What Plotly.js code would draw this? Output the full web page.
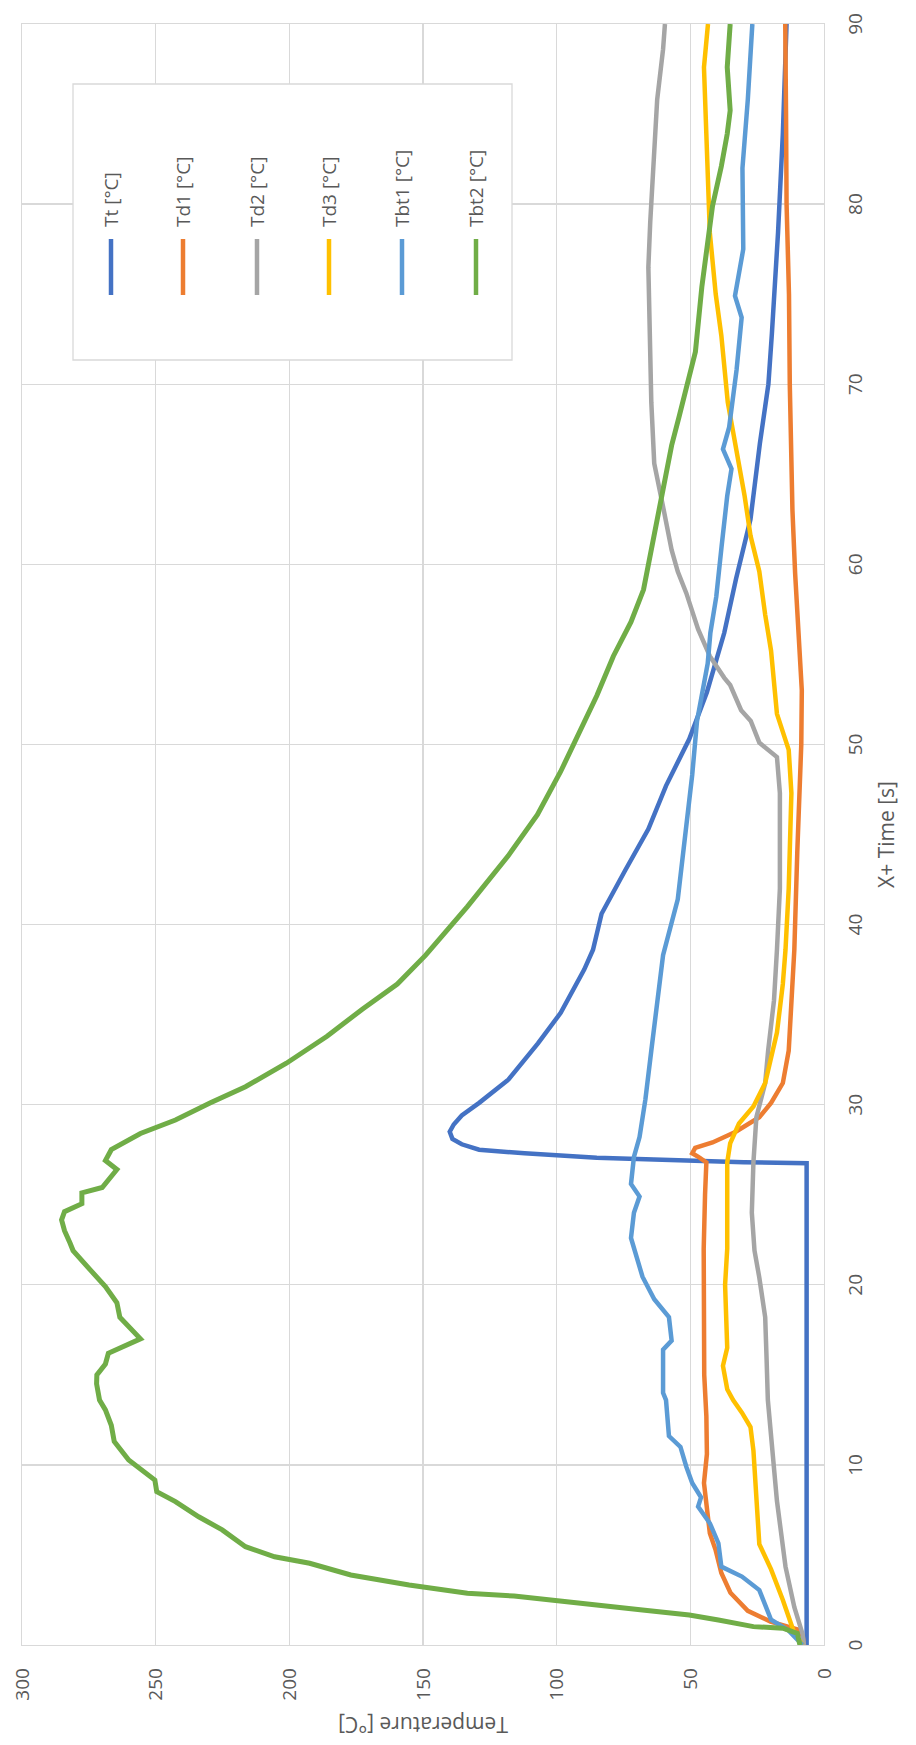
<!DOCTYPE html>
<html>
<head>
<meta charset="utf-8">
<script src="https://cdn.plot.ly/plotly-3.0.1.min.js"></script>
<style>
  html, body { margin: 0; padding: 0; background: #ffffff; overflow: hidden; }
  body { width: 916px; height: 1745px; position: relative; }
  /* The chart is laid out landscape and turned a quarter turn counter-clockwise */
  #chart {
    position: absolute; left: 0; top: 0;
    width: 1745px; height: 916px;
    transform-origin: 0 0;
    transform: translate(0px, 1745px) rotate(-90deg);
  }
</style>
</head>
<body>
<div id="chart"></div>
<script>
// Series names and colours
const seriesNames = ['Tt [°C]', 'Td1 [°C]', 'Td2 [°C]', 'Td3 [°C]', 'Tbt1 [°C]', 'Tbt2 [°C]'];
const seriesColors = ['#4472C4', '#ED7D31', '#A5A5A5', '#FFC000', '#5B9BD5', '#70AD47'];

// Tt
const timeTt = [0, 5, 10, 15, 20, 26.75, 26.8, 26.9, 27.05, 27.3, 27.5, 27.8, 28.1, 28.5, 28.9, 29.4, 30.1, 31.4, 33.4, 35.1, 37.5, 38.6, 40.6, 43, 45.3, 47.7, 50.3, 52.9, 56.2, 59.2, 62.5, 66.7, 68.2, 70, 72.8, 78.4, 83.9, 86, 90];
const tempTt = [6.5, 6.5, 6.5, 6.5, 6.5, 6.5, 30, 55, 85, 112, 129, 135.5, 139, 140, 138.5, 135.5, 129, 118, 107, 98.5, 89.7, 86.4, 83.2, 74.4, 65.7, 59.1, 50.4, 43.8, 37.3, 32.9, 27.5, 24, 22.5, 20.8, 19.5, 17.2, 15.4, 15, 14];

// Td1
const timeTd1 = [0, 0.5, 0.83, 1.3, 1.9, 2.9, 4, 5.3, 6.2, 7.5, 9, 10.6, 12.7, 15, 18, 22, 25, 26.8, 27.1, 27.3, 27.6, 27.9, 28.5, 29.3, 30.1, 31.2, 33, 35.8, 38.6, 44, 50, 53, 56, 59.5, 63, 66, 70, 75, 80, 85, 90];
const tempTd1 = [7.5, 8, 9, 20, 28.5, 35, 38.4, 40.6, 42.7, 43.8, 44.9, 43.8, 44, 44.8, 45, 45, 44.5, 44, 47, 49.3, 48.2, 41.7, 33, 24.2, 19.8, 15.4, 13.2, 12.2, 11.1, 10, 8.5, 8.3, 9.5, 10.8, 11.8, 12.4, 12.8, 13.1, 14, 14.2, 14.5];

// Td2
const timeTd2 = [0, 0.6, 2.1, 4.35, 8, 11.8, 13.6, 16, 18.2, 20.4, 21.9, 24, 26.8, 29.3, 31.2, 33, 35.8, 38.6, 42, 47.3, 49.3, 50.1, 51.3, 51.9, 53.3, 53.7, 54.9, 56.4, 58.4, 59.6, 60.8, 63.2, 65.6, 69, 72, 76.5, 79, 82.1, 85.8, 88.6, 90];
const tempTd2 = [7.5, 8, 11.1, 14.4, 17.6, 19.8, 21, 21.5, 22, 24.2, 26, 27, 26.4, 25.3, 22, 20.9, 18.7, 17.6, 16.5, 16.5, 17.6, 24.2, 27.4, 31, 35.1, 37.3, 42.7, 47.1, 51.5, 54.7, 57, 60.2, 63.5, 64.6, 65, 65.7, 65, 64, 62.4, 60.2, 59.5];

// Td3
const timeTd3 = [0, 0.65, 2.5, 4.2, 5.6, 8, 10.8, 12.1, 12.9, 13.6, 14.2, 15.5, 16.5, 20, 22, 26.8, 27.85, 28.95, 29.9, 31.2, 34, 36.7, 38.6, 42, 47.3, 49.7, 51.7, 55.2, 57.2, 59.6, 61.6, 63.8, 66.6, 69, 72.7, 75, 78.4, 83.9, 87.6, 90];
const tempTd3 = [8, 11.1, 15.4, 19.8, 24.2, 25.3, 26.4, 27.5, 30.7, 34, 36.2, 37.8, 36.2, 37, 36.2, 36.2, 35.1, 31.8, 26.4, 22, 17.6, 15.4, 14.4, 13.2, 12.2, 13.2, 17.6, 19.8, 22, 24.2, 27.5, 29.7, 32.9, 36, 38.4, 40.5, 42.7, 43.8, 44.9, 43.4];

// Tbt1
const timeTbt1 = [0, 0.8, 1.4, 3.05, 3.8, 4.35, 5.65, 6.76, 7.68, 8.2, 9, 9.9, 11, 11.6, 13.6, 14, 16.4, 16.9, 18.2, 19.2, 20.45, 21.6, 22.6, 24, 24.9, 25.6, 27.1, 28.2, 30.3, 33, 35.8, 38.3, 41.4, 45.3, 48.3, 51.3, 54.5, 56.2, 58.2, 61, 63.8, 65.3, 66.4, 67.6, 70.8, 73.7, 74.9, 77.5, 82, 85.8, 90];
const tempTbt1 = [8, 13.2, 19.8, 24.2, 30.7, 38.4, 39.5, 42.7, 47.1, 46, 49.3, 51.5, 53.7, 58, 59.1, 60.2, 60.2, 57, 58, 63.5, 67.9, 70, 72.2, 71.1, 69, 72.2, 71.1, 69, 66.8, 64.6, 62.4, 60.2, 54.7, 51.5, 49.3, 47.5, 43.5, 42.5, 40.3, 38.3, 36.2, 34.6, 37.8, 35.5, 32.7, 30.8, 33.3, 30.2, 30.5, 28.5, 26.8];

// Tbt2
const timeTbt2 = [0, 0.65, 0.93, 1.02, 1.39, 1.67, 1.94, 2.3, 2.5, 2.72, 2.87, 3.33, 3.89, 4.54, 4.9, 5.46, 6.39, 7.12, 7.96, 8.51, 9.16, 9.53, 10.27, 11.3, 12.2, 13.05, 13.6, 14.5, 15, 15.6, 16.2, 17, 18.2, 19, 19.9, 20.8, 21.9, 22.3, 23, 23.6, 24.06, 24.5, 25.1, 25.4, 26.4, 26.9, 27.5, 28.4, 29.15, 30.1, 31, 32.3, 33.8, 35.3, 36.7, 38.3, 41, 43.8, 46.1, 48.5, 50.5, 52.7, 54.9, 56.8, 58.6, 60.8, 63, 66.6, 68.2, 71.8, 75.4, 79.9, 82.1, 83.9, 85.2, 87.6, 90];
const tempTbt2 = [9, 10, 15.4, 26.4, 39.5, 50.4, 67.9, 89.8, 100.6, 115.9, 133.4, 155.2, 177, 192.4, 205.5, 216.4, 225.1, 233.9, 242.6, 249.6, 250.3, 253.6, 260.1, 265.5, 266.6, 268.8, 271, 272.1, 272, 268.8, 267.7, 255.7, 263.4, 264.5, 268.8, 274.3, 280.9, 282, 284.1, 285.2, 284.1, 277.6, 277.6, 270, 264.5, 268.8, 266.6, 255.7, 242.6, 229.5, 216.4, 201.1, 185.9, 172.7, 159.6, 149, 133.4, 118.2, 107.2, 98.5, 91.9, 85, 78.8, 72.2, 67.5, 64.6, 61.3, 57, 54.2, 48.1, 45.7, 41.7, 38.4, 36.2, 35.1, 36.2, 35.1];

const seriesTimes = [timeTt, timeTd1, timeTd2, timeTd3, timeTbt1, timeTbt2];
const seriesTemps = [tempTt, tempTd1, tempTd2, tempTd3, tempTbt1, tempTbt2];

// Axis ticks
const timeTicks = [0, 10, 20, 30, 40, 50, 60, 70, 80, 90];
const tempTicks = [0, 50, 100, 150, 200, 250, 300];

const W = 1745, H = 916;
const M = { l: 100, r: 24, t: 22, b: 92 };
const PW = W - M.l - M.r, PH = H - M.t - M.b;
const px = x => (x - M.l) / PW;           // pixel -> paper x
const py = y => (H - M.b - y) / PH;       // pixel -> paper y

const gridColor = '#d9d9d9';
const textColor = '#595959';
const font = 'Open Sans, Liberation Sans, sans-serif';

const traces = seriesNames.map((name, i) => ({
  type: 'scatter',
  mode: 'lines',
  name: name,
  x: seriesTimes[i],
  y: seriesTemps[i],
  line: { color: seriesColors[i], width: i === 5 ? 5 : 4.5, shape: 'linear' },
  showlegend: false,
  hoverinfo: 'skip'
}));

// Legend box drawn as shapes + annotations, one entry per row
const legendRows = [111, 183, 257, 329, 402, 476];
const shapes = [{
  type: 'rect', xref: 'paper', yref: 'paper',
  x0: px(1385), x1: px(1661), y0: py(512), y1: py(73),
  line: { color: gridColor, width: 1.3 }, fillcolor: '#ffffff', layer: 'above'
}];
const annotations = [];
seriesNames.forEach((name, i) => {
  shapes.push({
    type: 'line', xref: 'paper', yref: 'paper',
    x0: px(1450), x1: px(1506), y0: py(legendRows[i]), y1: py(legendRows[i]),
    line: { color: seriesColors[i], width: 4.5 }, layer: 'above'
  });
  annotations.push({
    xref: 'paper', yref: 'paper', x: px(1516), y: py(legendRows[i]),
    xanchor: 'left', yanchor: 'middle', showarrow: false,
    text: name, font: { family: font, size: 19, color: textColor }
  });
});

const layout = {
  width: W, height: H,
  margin: M,
  paper_bgcolor: '#ffffff', plot_bgcolor: '#ffffff',
  font: { family: font, color: textColor },
  xaxis: {
    range: [0, 90], tickvals: timeTicks, ticktext: timeTicks.map(String),
    showgrid: true, gridcolor: gridColor, gridwidth: 1.3,
    zeroline: false, showline: true, linecolor: gridColor, linewidth: 1.3, mirror: true,
    ticks: '', ticklabelstandoff: 14,
    tickfont: { family: font, size: 19, color: textColor },
    title: { text: 'X+ Time [s]', standoff: 12, font: { family: font, size: 21, color: textColor } },
    automargin: false, fixedrange: true
  },
  yaxis: {
    range: [0, 300], tickvals: tempTicks, ticktext: tempTicks.map(String),
    showgrid: true, gridcolor: gridColor, gridwidth: 1.3,
    zeroline: false, showline: true, linecolor: gridColor, linewidth: 1.3, mirror: true,
    ticks: '', ticklabelstandoff: 18,
    tickfont: { family: font, size: 19, color: textColor },
    title: { text: 'Temperature [°C]', standoff: 10, font: { family: font, size: 21, color: textColor } },
    automargin: false, fixedrange: true
  },
  shapes: shapes,
  annotations: annotations,
  showlegend: false
};

Plotly.newPlot('chart', traces, layout, { displayModeBar: false, staticPlot: true });
</script>
</body>
</html>
